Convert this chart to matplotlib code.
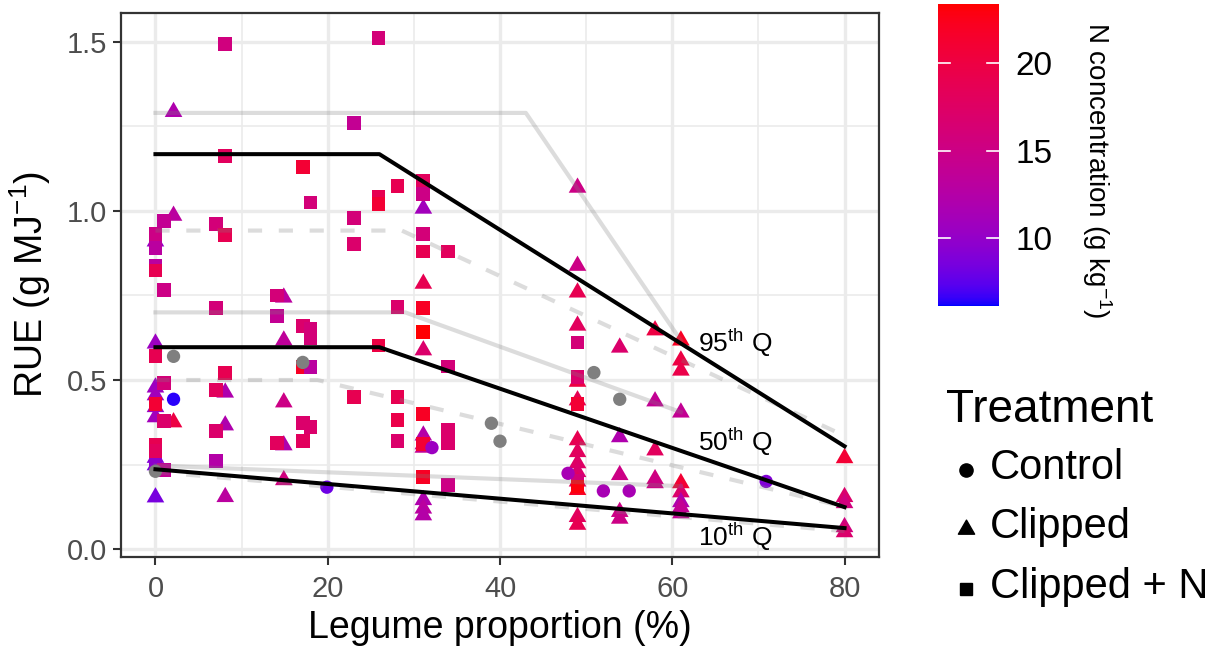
import numpy as np
import matplotlib
matplotlib.use('Agg')
import matplotlib.pyplot as plt
from matplotlib.colors import ListedColormap, Normalize
from matplotlib.cm import ScalarMappable
from matplotlib.path import Path

plt.rcParams['font.family'] = ['Liberation Sans', 'DejaVu Sans']
plt.rcParams['mathtext.fontset'] = 'custom'
plt.rcParams['mathtext.rm'] = 'Liberation Sans'
plt.rcParams['mathtext.it'] = 'Liberation Sans:italic'
plt.rcParams['mathtext.bf'] = 'Liberation Sans:bold'

# ---------------- data ----------------
nan = np.nan
# Control (circles); N = NaN -> grey (no N measured)
ctrl_x = [2.1, 2.1, 0, 17.1, 19.9, 32.1, 39, 40, 47.9, 50.9, 52, 53.9, 55, 70.9]
ctrl_y = [0.57, 0.443, 0.23, 0.552, 0.183, 0.30, 0.372, 0.319, 0.224, 0.522, 0.172, 0.443, 0.172, 0.20]
ctrl_n = [nan, 6.4, nan, nan, 8.0, 10.5, nan, nan, 11.5, nan, 11.5, nan, 11.5, 9.0]

# Clipped (triangles)
clip_x = [0, 0, 0, 0, 0, 0, 0, 0, 0,
          2.1, 2.1, 2.1,
          8.1, 8.1, 8.1,
          14.9, 14.9, 14.9, 14.9, 14.9,
          31.1, 31.1, 31.1, 31.1, 31.1, 31.1, 31.1, 31.1, 31.1,
          49, 49, 49, 49, 49, 49, 49, 49, 49, 49, 49, 49, 49, 49,
          53.9, 53.9, 53.9, 53.9, 53.9,
          58, 58, 58, 58, 58,
          61, 61, 61, 61, 61, 61, 61, 61, 61,
          80, 80, 80, 80, 80]
clip_y = [0.91, 0.608, 0.478, 0.455, 0.42, 0.39, 0.27, 0.248, 0.153,
          0.986, 1.293, 0.375,
          0.463, 0.366, 0.154,
          0.744, 0.617, 0.434, 0.307, 0.204,
          1.007, 0.785, 0.588, 0.336, 0.31, 0.30, 0.145, 0.12, 0.10,
          1.069, 0.838, 0.759, 0.661, 0.495, 0.44, 0.322, 0.287, 0.254, 0.228, 0.20, 0.175, 0.095, 0.072,
          0.596, 0.331, 0.219, 0.11, 0.09,
          0.647, 0.437, 0.292, 0.207, 0.195,
          0.617, 0.558, 0.528, 0.404, 0.195, 0.168, 0.139, 0.124, 0.106,
          0.269, 0.154, 0.136, 0.065, 0.05]
clip_n = [10, 10.5, 10.5, 11, 10.5, 11, 9, 8.5, 8.5,
          13, 12, 20,
          12, 12, 13,
          13, 13.5, 15, 12, 15.5,
          11, 19, 17, 12.5, 14, 14, 12, 13, 12.5,
          15, 15, 19, 18, 20, 19, 19, 18, 17.5, 17, 18, 22, 18, 19,
          17, 12, 15, 15, 15,
          20, 14, 18, 15.5, 15,
          22, 20, 19.5, 14, 21, 17, 12, 14, 14,
          21, 17, 15.5, 15.5, 17]

# Clipped + N (squares)
clipn_x = [0, 0, 0, 0, 0, 0, 0, 0, 0,
           1, 1, 1, 1, 1,
           7, 7, 7, 7, 7,
           8.1, 8.1, 8.1, 8.1,
           14.1, 14.1, 14.1,
           17.1, 18, 17.1, 18, 18, 17.1, 18, 17.1, 18, 17.1,
           23, 23, 23, 23,
           25.9, 25.9, 25.9, 25.9,
           28.1, 28.1, 28.1, 28.1, 28.1,
           31.1, 31.1, 31.1, 31.1, 34, 31.1, 31.1, 34, 31.1, 31.1, 34, 34, 31.1, 34,
           49, 49, 49, 49, 49]
clipn_y = [0.933, 0.89, 0.838, 0.824, 0.57, 0.43, 0.307, 0.29, 0.25,
           0.97, 0.765, 0.49, 0.38, 0.233,
           0.962, 0.712, 0.47, 0.35, 0.26,
           1.494, 1.163, 0.93, 0.52,
           0.75, 0.69, 0.313,
           1.131, 1.025, 0.661, 0.652, 0.623, 0.538, 0.538, 0.372, 0.36, 0.319,
           1.261, 0.98, 0.903, 0.449,
           1.512, 1.04, 1.02, 0.602,
           1.075, 0.715, 0.449, 0.381, 0.319,
           1.09, 1.05, 0.932, 0.88, 0.88, 0.712, 0.641, 0.54, 0.40, 0.31, 0.351, 0.313, 0.212, 0.19,
           0.611, 0.508, 0.43, 0.20, 0.185]
clipn_n = [15, 13, 13, 19, 19, 21, 19, 18, 9.5,
           14, 15, 16, 17, 14,
           16, 16, 18, 17, 12.5,
           15.5, 18, 19, 19,
           16, 14, 18,
           21, 16, 17, 16, 16, 22, 13, 17, 17, 18,
           14, 16, 17, 19,
           16, 19, 21, 20,
           19, 17, 19, 19.5, 17,
           18, 15, 16, 19, 18, 22, 23.3, 16, 22, 21, 17, 17, 22, 15,
           16, 17, 21, 16, 23]

# Segmented quantile regression fits (black) and reference fits (grey)
q95_x, q95_y = [0, 26, 80], [1.168, 1.168, 0.304]
q50_x, q50_y = [0, 26, 80], [0.597, 0.597, 0.124]
q10_x, q10_y = [0, 80], [0.236, 0.062]
gs95_x, gs95_y = [0, 43, 61], [1.29, 1.29, 0.617]
gs50_x, gs50_y = [0, 29, 61], [0.70, 0.70, 0.405]
gs10_x, gs10_y = [0, 61], [0.247, 0.186]
gd95_x, gd95_y = [0, 28.6, 80], [0.942, 0.942, 0.335]
gd50_x, gd50_y = [0, 18.8, 80], [0.50, 0.50, 0.125]
gd10_x, gd10_y = [0, 80], [0.228, 0.053]

q_labels = [r'95$^{\mathrm{th}}$ Q', r'50$^{\mathrm{th}}$ Q', r'10$^{\mathrm{th}}$ Q']
q_label_x = [63, 63, 63]
q_label_y = [0.61, 0.316, 0.035]

x_ticks = [0, 20, 40, 60, 80]
y_ticks = [0.0, 0.5, 1.0, 1.5]
cb_ticks = [10, 15, 20]
n_min, n_max = 6.1, 23.4

# ---------------- colour map: blue -> red interpolated in CIELAB ----------------
M = np.array([[0.4124, 0.3576, 0.1805], [0.2126, 0.7152, 0.0722], [0.0193, 0.1192, 0.9505]])
Minv = np.linalg.inv(M)
wp = np.array([0.95047, 1.0, 1.08883])
d = 6 / 29


def to_lin(c):
    c = np.asarray(c, float)
    return np.where(c <= 0.04045, c / 12.92, ((c + 0.055) / 1.055) ** 2.4)


def to_srgb(c):
    c = np.clip(c, 0, 1)
    return np.where(c <= 0.0031308, 12.92 * c, 1.055 * c ** (1 / 2.4) - 0.055)


def fl(t):
    return np.where(t > d ** 3, np.cbrt(t), t / (3 * d * d) + 4 / 29)


def finv(t):
    return np.where(t > d, t ** 3, 3 * d * d * (t - 4 / 29))


def rgb2lab(rgb):
    xyz = (M @ to_lin(rgb)) / wp
    fx, fy, fz = fl(xyz)
    return np.array([116 * fy - 16, 500 * (fx - fy), 200 * (fy - fz)])


def lab2rgb(lab):
    L, a, b = lab
    fy = (L + 16) / 116
    fx = fy + a / 500
    fz = fy - b / 200
    xyz = np.array([finv(fx), finv(fy), finv(fz)]) * wp[:, None]
    return to_srgb(Minv @ xyz)


lo = rgb2lab(np.array([0.0, 0.0, 1.0]))
hi = rgb2lab(np.array([1.0, 0.0, 0.0]))
t = np.linspace(0, 1, 256)
cols = lab2rgb(lo[:, None] * (1 - t) + hi[:, None] * t).T
cmap = ListedColormap(cols).with_extremes(bad='#7F7F7F')
norm = Normalize(n_min, n_max)

# ---------------- figure ----------------
W, H = 1219, 651
fig = plt.figure(figsize=(W / 100, H / 100), dpi=100)
ax = fig.add_axes([121 / W, 1 - 557 / H, (879 - 121) / W, (557 - 13) / H])
ax.set_xlim(-4, 84)
ax.set_ylim(-0.0235, 1.5855)

# grid (theme_bw)
for v in [10, 30, 50, 70]:
    ax.axvline(v, color='#EBEBEB', lw=1.2, zorder=0)
for v in [0.25, 0.75, 1.25]:
    ax.axhline(v, color='#EBEBEB', lw=1.2, zorder=0)
for v in x_ticks:
    ax.axvline(v, color='#EBEBEB', lw=2.4, zorder=0)
for v in y_ticks:
    ax.axhline(v, color='#EBEBEB', lw=2.4, zorder=0)

tri = Path([(-1, -0.57735), (1, -0.57735), (0, 1.1547), (-1, -0.57735)],
           [Path.MOVETO, Path.LINETO, Path.LINETO, Path.CLOSEPOLY])

ax.scatter(clip_x, clip_y, c=clip_n, cmap=cmap, norm=norm, marker=tri, s=215,
           linewidths=0, zorder=2, plotnonfinite=True)
ax.scatter(clipn_x, clipn_y, c=clipn_n, cmap=cmap, norm=norm, marker='s', s=100,
           linewidths=0, zorder=2, plotnonfinite=True)
ax.scatter(ctrl_x, ctrl_y, c=ctrl_n, cmap=cmap, norm=norm, marker='o', s=92,
           linewidths=0, zorder=2, plotnonfinite=True)

gkw = dict(color='#808080', alpha=0.27, lw=3.0, zorder=3, solid_joinstyle='round')
for xs, ys in [(gs95_x, gs95_y), (gs50_x, gs50_y), (gs10_x, gs10_y)]:
    ax.plot(xs, ys, **gkw)
for xs, ys in [(gd95_x, gd95_y), (gd50_x, gd50_y), (gd10_x, gd10_y)]:
    ax.plot(xs, ys, dashes=(3.4, 4.0), **gkw)
for xs, ys in [(q95_x, q95_y), (q50_x, q50_y), (q10_x, q10_y)]:
    ax.plot(xs, ys, color='black', lw=2.9, zorder=4)

for lab, lx, ly in zip(q_labels, q_label_x, q_label_y):
    ax.text(lx, ly, lab, fontsize=19, ha='left', va='center', zorder=5)

ax.set_xticks(x_ticks)
ax.set_yticks(y_ticks)
ax.set_xticklabels([str(v) for v in x_ticks])
ax.set_yticklabels(['0.0', '0.5', '1.0', '1.5'])
ax.tick_params(axis='both', length=6, width=1.5, color='#333333', labelcolor='#4D4D4D',
               labelsize=21, pad=4)
ax.tick_params(axis='x', pad=7)
for sp in ax.spines.values():
    sp.set_color('#333333')
    sp.set_linewidth(1.6)
ax.set_xlabel('Legume proportion (%)', fontsize=27, labelpad=5)
ax.set_ylabel(r'RUE (g MJ$^{\mathregular{-1}}$)', fontsize=27, labelpad=10)

# colour bar
cax = fig.add_axes([938 / W, 1 - 306 / H, 61 / W, 302 / H])
cb = fig.colorbar(ScalarMappable(norm=norm, cmap=cmap), cax=cax)
cb.outline.set_visible(False)
cb.set_ticks(cb_ticks)
cax.tick_params(length=0, pad=12, labelsize=24, labelcolor='black')
for tv in cb_ticks:
    cax.axhline(tv, xmin=0, xmax=0.2, color='white', lw=1.2)
    cax.axhline(tv, xmin=0.8, xmax=1, color='white', lw=1.2)
fig.text(1097 / W, 1 - 170 / H, r'N concentration (g kg$^{\mathregular{-1}}$)', rotation=270,
         ha='center', va='center', fontsize=20)

# shape legend
fig.text(946 / W, 1 - 410 / H, 'Treatment', fontsize=33, ha='left', va='center')
leg_labels = ['Control', 'Clipped', 'Clipped + N']
leg_markers = ['o', tri, 's']
leg_sizes = [9.5, 13.5, 9.0]
leg_y = [468, 527, 587]
for lab, mk, ms, yy in zip(leg_labels, leg_markers, leg_sizes, leg_y):
    fig.text(990 / W, 1 - yy / H, lab, fontsize=30, ha='left', va='center')
    fig.add_artist(plt.Line2D([966 / W], [1 - (yy + 2) / H], marker=mk, markersize=ms,
                              color='black', linestyle='none', transform=fig.transFigure))

fig.savefig('out.png', dpi=100)
